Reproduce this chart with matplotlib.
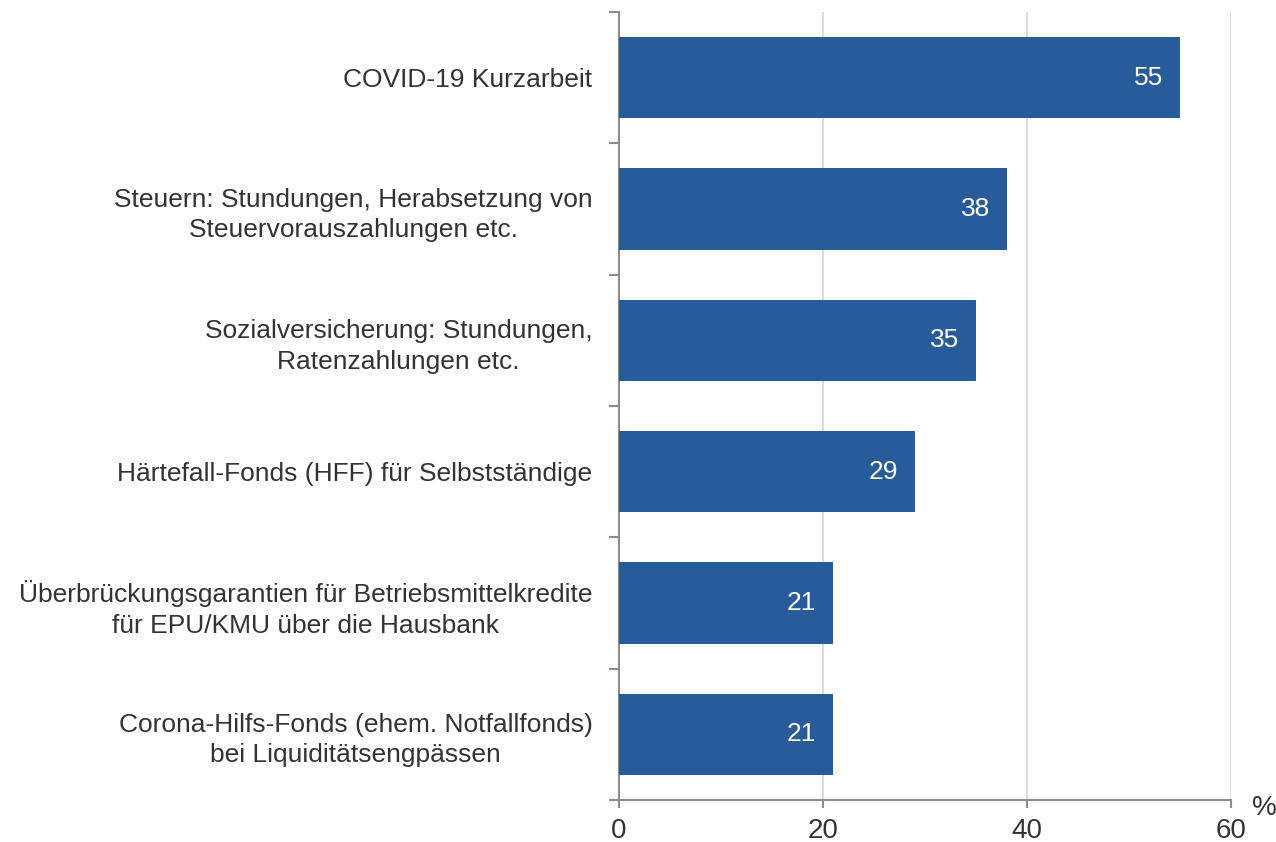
import matplotlib
matplotlib.use("Agg")
import numpy as np
import matplotlib.pyplot as plt

# data, top to bottom as shown
categories = [
    "COVID-19 Kurzarbeit",
    "Steuern: Stundungen, Herabsetzung von\nSteuervorauszahlungen etc.",
    "Sozialversicherung: Stundungen,\nRatenzahlungen etc.",
    "Härtefall-Fonds (HFF) für Selbstständige",
    "Überbrückungsgarantien für Betriebsmittelkredite\nfür EPU/KMU über die Hausbank",
    "Corona-Hilfs-Fonds (ehem. Notfallfonds)\nbei Liquiditätsengpässen",
]
values = [55, 38, 35, 29, 21, 21]
x_ticks = [0, 20, 40, 60]

bar_color = "#285B99"
text_color = "#333333"
spine_color = "#8c8c8c"
grid_color = "#d9d9d9"

plt.rcParams["font.family"] = ["Liberation Sans", "DejaVu Sans"]

fig = plt.figure(figsize=(12.76, 8.42), dpi=100)
ax = fig.add_axes([0.485, 0.0499, 0.4797, 0.9358])

n = len(categories)
ypos = np.arange(n)[::-1]
ax.barh(ypos, values, height=0.62, color=bar_color, zorder=3)

for y, v in zip(ypos, values):
    ax.annotate(str(v), xy=(v, y), xytext=(-12, 0), textcoords="offset points",
                ha="right", va="center", color="white", fontsize=19)

ax.set_xlim(0, 60)
ax.set_ylim(-0.5, n - 0.5)
ax.set_xticks(x_ticks)
ax.set_xticklabels([str(t) for t in x_ticks])
ax.tick_params(axis="x", length=6, width=1.5, color=spine_color,
               labelsize=20, labelcolor=text_color, pad=7)

ax.set_yticks(ypos)
ax.set_yticklabels(categories)
ax.set_yticks(np.arange(-0.5, n, 1.0), minor=True)
ax.tick_params(axis="y", which="major", length=0, pad=19,
               labelsize=19, labelcolor=text_color)
ax.tick_params(axis="y", which="minor", length=7, width=1.5, color=spine_color)
for lab in ax.get_yticklabels():
    lab.set_multialignment("center")
    lab.set_linespacing(1.35)

ax.grid(axis="x", color=grid_color, linewidth=1.3, zorder=0)
for s in ["top", "right"]:
    ax.spines[s].set_visible(False)
for s in ["left", "bottom"]:
    ax.spines[s].set_color(spine_color)
    ax.spines[s].set_linewidth(1.5)

ax.text(1.055, -0.01, "%", transform=ax.transAxes, ha="center", va="center",
        fontsize=20, color=text_color)

fig.savefig("out.png", dpi=100)
